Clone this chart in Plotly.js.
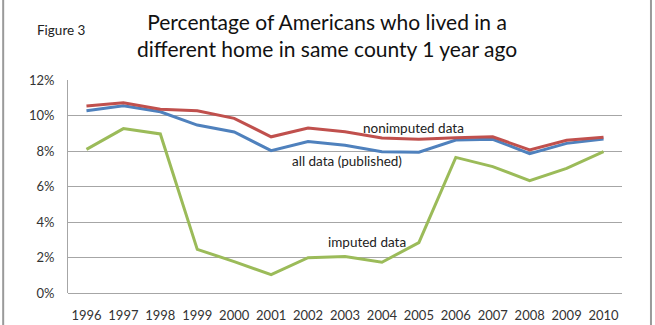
<!DOCTYPE html>
<html>
<head>
<meta charset="utf-8">
<script src="https://cdn.plot.ly/plotly-3.0.1.min.js"></script>
<style>
  html, body { margin: 0; padding: 0; background: #fff; }
  #chart { width: 655px; height: 325px; }
</style>
</head>
<body>
<div id="chart"></div>
<script>
// Survey years
const years = ['1996','1997','1998','1999','2000','2001','2002','2003','2004','2005','2006','2007','2008','2009','2010'];

// Share (%) who lived in a different home in the same county one year earlier
const nonimputed = [10.54, 10.72, 10.35, 10.27, 9.84, 8.80, 9.30, 9.09, 8.73, 8.66, 8.75, 8.80, 8.06, 8.60, 8.77];
const allPublished = [10.27, 10.55, 10.21, 9.46, 9.07, 8.02, 8.54, 8.32, 7.96, 7.93, 8.62, 8.66, 7.85, 8.43, 8.68];
const imputed = [8.09, 9.26, 8.96, 2.46, 1.77, 1.03, 1.99, 2.05, 1.73, 2.84, 7.64, 7.12, 6.33, 7.02, 7.96];

const yTicks = [0, 2, 4, 6, 8, 10, 12];
const yTickText = ['0%', '2%', '4%', '6%', '8%', '10%', '12%'];

const FONT = 'Lato, "Open Sans", "DejaVu Sans", sans-serif';

const line = (y, color, name) => ({
  type: 'scatter', mode: 'lines', x: years, y: y, name: name,
  line: { color: color, width: 3 }, hoverinfo: 'skip'
});

const traces = [
  line(imputed, '#9BBB59', 'imputed data'),
  line(allPublished, '#4F81BD', 'all data (published)'),
  line(nonimputed, '#C0504D', 'nonimputed data')
];

// series label, placed beside its line
const seriesLabel = (text, xi, y, xshift) => ({
  text: text, xref: 'x', yref: 'y', x: xi, y: y, xshift: xshift,
  xanchor: 'center', yanchor: 'middle', showarrow: false,
  font: { family: FONT, size: 13.5, color: '#222222' }
});

const layout = {
  width: 655, height: 325,
  margin: { l: 68, r: 33, t: 80, b: 32 },
  paper_bgcolor: '#ffffff', plot_bgcolor: '#ffffff',
  showlegend: false,
  font: { family: FONT, color: '#333333', size: 13 },
  xaxis: {
    type: 'category',
    range: [-0.5, years.length - 0.5],
    showgrid: false, zeroline: false, showline: false,
    ticks: 'outside', ticklen: 10, tickcolor: 'rgba(0,0,0,0)',
    tickfont: { family: FONT, size: 13, color: '#333333' },
    fixedrange: true
  },
  yaxis: {
    range: [0, 12],
    tickvals: yTicks, ticktext: yTickText,
    showgrid: true, gridcolor: '#A6A6A6', gridwidth: 1,
    zeroline: true, zerolinecolor: '#A6A6A6', zerolinewidth: 1,
    showline: true, linecolor: '#A6A6A6', linewidth: 1,
    ticks: 'outside', ticklen: 10, tickcolor: 'rgba(0,0,0,0)',
    tickfont: { family: FONT, size: 13, color: '#333333' },
    fixedrange: true
  },
  annotations: [
    { text: 'Percentage of Americans who lived in a<br>different home in same county 1 year ago',
      xref: 'paper', yref: 'paper', x: 0.468, y: 1.211,
      xanchor: 'center', yanchor: 'middle', align: 'center', showarrow: false,
      font: { family: FONT, size: 21, color: '#111111' } },
    { text: 'Figure 3', xref: 'paper', yref: 'paper', x: -0.011, y: 1.235,
      xanchor: 'center', yanchor: 'middle', showarrow: false,
      font: { family: FONT, size: 13.5, color: '#222222' } },
    seriesLabel('nonimputed data', 8, 9.3, 32),
    seriesLabel('all data (published)', 7, 7.45, 2),
    seriesLabel('imputed data', 7, 2.9, 22)
  ],
  shapes: [
    // vertical frame rules at the page edges
    { type: 'line', xref: 'paper', yref: 'paper', x0: -0.117, x1: -0.117, y0: -0.16, y1: 1.38,
      line: { color: '#9A9A9A', width: 2 } },
    { type: 'line', xref: 'paper', yref: 'paper', x0: 1.0523, x1: 1.0523, y0: -0.16, y1: 1.38,
      line: { color: '#9A9A9A', width: 2 } }
  ]
};

Plotly.newPlot('chart', traces, layout, { displayModeBar: false, staticPlot: true });
</script>
</body>
</html>
